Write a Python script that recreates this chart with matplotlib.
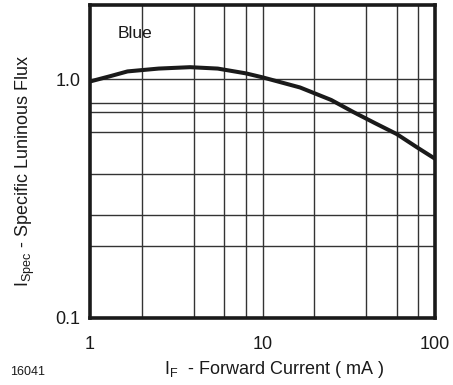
import matplotlib
matplotlib.use("Agg")
import matplotlib.pyplot as plt

plt.rcParams['font.family'] = ['Liberation Sans', 'DejaVu Sans']

# curve
current_ma = [1, 1.3, 1.65, 2.5, 3.8, 5.5, 8.0, 10, 16.5, 25, 33.6, 45, 60, 80, 100]
flux = [0.98, 1.03, 1.08, 1.11, 1.125, 1.11, 1.06, 1.02, 0.925, 0.82, 0.73, 0.655, 0.59, 0.515, 0.465]

x_grid = [2, 4, 6, 8, 10, 20, 40, 60, 80]
y_grid = [0.2, 0.27, 0.4, 0.6, 0.73, 0.8, 1.0]
x_ticks = [1, 10, 100]
x_ticklabels = ['1', '10', '100']
y_ticks = [0.1, 1.0]
y_ticklabels = ['0.1', '1.0']

fig = plt.figure(figsize=(4.53, 3.85), dpi=100)
ax = fig.add_axes([90 / 453, 1 - 318 / 385, 345 / 453, 313 / 385])
ax.set_xscale('log')
ax.set_yscale('log')
ax.set_xlim(1, 100)
ax.set_ylim(0.1, 2.05)

for xv in x_grid:
    ax.axvline(xv, color='#333333', lw=1.0, zorder=1)
for yv in y_grid:
    ax.axhline(yv, color='#333333', lw=1.0, zorder=1)

ax.plot(current_ma, flux, color='#1a1a1a', lw=2.9, solid_capstyle='butt', zorder=3)

ax.minorticks_off()
ax.set_xticks(x_ticks)
ax.set_xticklabels(x_ticklabels)
ax.set_yticks(y_ticks)
ax.set_yticklabels(y_ticklabels)
ax.tick_params(length=0, labelsize=13, colors='#1a1a1a')
ax.tick_params(axis='x', pad=13)
ax.tick_params(axis='y', pad=7)
for s in ax.spines.values():
    s.set_linewidth(2.6)
    s.set_color('#1a1a1a')

ax.text(1.82, 1.55, 'Blue', ha='center', va='center', fontsize=12.5, color='#1a1a1a')

fig.text(28 / 453, 1 - 372 / 385, '16041', ha='center', va='center', fontsize=9, color='#1a1a1a')
fig.text(274 / 453, 1 - 370 / 385, r'I$_\mathregular{F}$  - Forward Current ( mA )',
         ha='center', va='center', fontsize=13, color='#1a1a1a')
fig.text(25 / 453, 1 - 171 / 385, r'I$_\mathregular{Spec}$ - Specific Luninous Flux',
         ha='center', va='center', rotation=90, fontsize=13, color='#1a1a1a')

fig.savefig('out.png', dpi=100, facecolor='white')
